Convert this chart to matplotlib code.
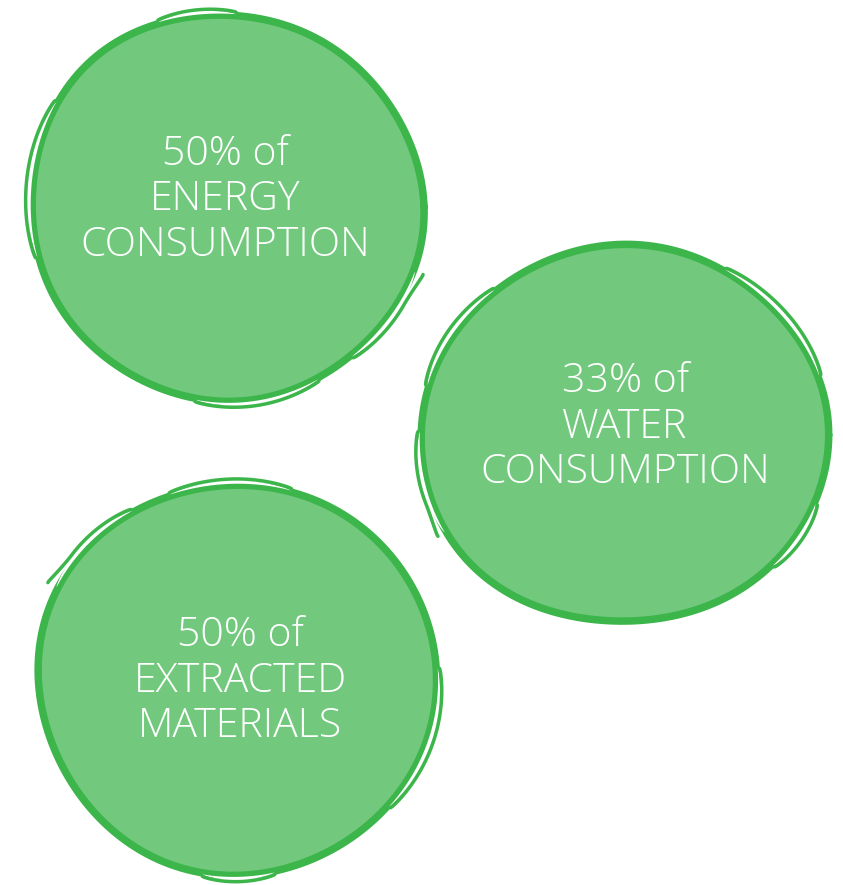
import numpy as np
import matplotlib.pyplot as plt

# the three figures shown in the bubbles
shares = [50, 33, 50]
resources = ["ENERGY\nCONSUMPTION", "WATER\nCONSUMPTION", "EXTRACTED\nMATERIALS"]

FILL = "#72c97e"
EDGE = "#3cb54a"

# bubble layout in pixels: centre x, centre y, radius x, radius y
bubbles = [(226, 207, 195, 194), (624, 435, 202, 190), (237, 679, 197, 197)]
text_xy = [(225, 200), (625, 427), (240, 681)]
# little wobble so the circles look hand drawn (amplitude, harmonic, phase)
wobble = [[(0.012, 2, 0.4), (0.008, 3, 1.9), (0.005, 5, 0.7)],
          [(0.010, 2, 2.1), (0.009, 3, 0.3), (0.004, 5, 2.6)],
          [(0.011, 2, 1.2), (0.007, 3, 2.8), (0.005, 4, 0.1)]]
# extra sketch strokes outside the ring: start deg, end deg, max gap px, tail px
strokes = [[(250, 273, 3, 0), (165, 212, 3.5, 0), (19, 50, 3.5, 7), (62, 99, 3, 0)],
           [(195, 230, 3.5, 0), (150, 181, 3.5, 6), (-60, -18, 3.5, 0), (21, 43, 3.5, 0)],
           [(-110, -74, 3, 0), (-153, -122, 3.5, 8), (-3, 40, 3.5, 0), (79, 100, 3, 0)]]


def radius(theta, rx, ry, wob):
    k = np.ones_like(theta)
    for a, n, ph in wob:
        k = k + a * np.sin(n * theta + ph)
    return rx * k, ry * k


fig = plt.figure(figsize=(8.43, 8.85), dpi=100)
ax = fig.add_axes([0, 0, 1, 1])
ax.set_xlim(0, 843)
ax.set_ylim(885, 0)
ax.axis("off")

for i in range(3):
    cx, cy, rx, ry = bubbles[i]
    t = np.linspace(0, 2 * np.pi, 400)
    kx, ky = radius(t, rx, ry, wobble[i])
    x = cx + kx * np.cos(t)
    y = cy + ky * np.sin(t)
    ax.fill(x, y, color=FILL, zorder=1)
    ax.plot(x, y, color=EDGE, lw=5.4, solid_capstyle="round", zorder=2)

    for a0, a1, gap, tail in strokes[i]:
        ts = np.radians(np.linspace(a0, a1, 100))
        sx, sy = radius(ts, rx, ry, wobble[i])
        u = np.linspace(0, 1, 100)
        s = np.sin(np.pi * u) ** 0.6
        inner = 1.5
        outer = inner + gap * s
        # white sliver between the ring and the extra stroke
        px = np.concatenate([cx + (sx + inner) * np.cos(ts),
                             (cx + (sx + outer) * np.cos(ts))[::-1]])
        py = np.concatenate([cy + (sy + inner) * np.sin(ts),
                             (cy + (sy + outer) * np.sin(ts))[::-1]])
        ax.fill(px, py, color="white", lw=0, zorder=3)
        d = outer + 1.8 + tail * np.clip(1 - u * 3, 0, 1) ** 2
        ax.plot(cx + (sx + d) * np.cos(ts), cy + (sy + d) * np.sin(ts),
                color=EDGE, lw=2.5, solid_capstyle="round", zorder=3)

    tx, ty = text_xy[i]
    ax.text(tx, ty, f"{shares[i]}% of\n{resources[i]}", color="white",
            fontsize=29.5, family="Open Sans", fontweight="light",
            ha="center", va="center", linespacing=1.16, zorder=4)

fig.savefig("out.png", dpi=100, facecolor="white")
